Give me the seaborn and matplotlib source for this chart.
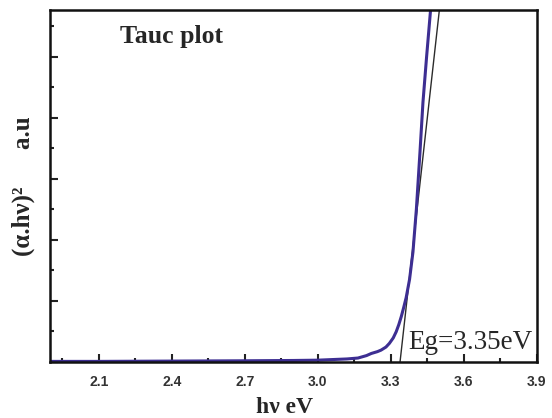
import numpy as np
import pandas as pd
import matplotlib
matplotlib.use("Agg")
import matplotlib.pyplot as plt
import seaborn as sns
from matplotlib.ticker import MultipleLocator, NullFormatter

# Tauc curve
photon_energy = [1.90, 2.10, 2.40, 2.70, 2.90, 3.00, 3.06, 3.12, 3.165, 3.20, 3.22,
                 3.245, 3.26, 3.28, 3.294, 3.31, 3.322, 3.333, 3.343, 3.353, 3.363,
                 3.377, 3.391, 3.405, 3.42, 3.432, 3.447, 3.464, 3.48]
tauc_value = [0.01, 0.01, 0.02, 0.03, 0.04, 0.05, 0.07, 0.09, 0.12, 0.20, 0.27,
              0.33, 0.38, 0.48, 0.60, 0.78, 0.98, 1.22, 1.48, 1.78, 2.10,
              2.70, 3.60, 5.00, 6.90, 8.50, 10.0, 11.6, 13.0]

# linear fit extrapolated to the x axis
fit_x = [3.338, 3.52]
fit_y = [0.0, 13.0]

df = pd.DataFrame({"hv": photon_energy, "ahv2": tauc_value})
fit = pd.DataFrame({"hv": fit_x, "ahv2": fit_y})

sns.set_style("ticks")
plt.rcParams['font.family'] = ['Liberation Serif', 'DejaVu Serif']

fig = plt.figure(figsize=(5.52, 4.18), dpi=100)
ax = fig.add_axes([0.0906, 0.1347, 0.882, 0.8413])

sns.lineplot(data=fit, x="hv", y="ahv2", color="#2b2b2b", lw=1.0, ax=ax)
sns.lineplot(data=df, x="hv", y="ahv2", color="#3d2e92", lw=2.2, ax=ax)

ax.set_xlim(1.9, 3.9)
ax.set_ylim(0, 11.53)
ax.xaxis.set_minor_locator(MultipleLocator(0.15))
ax.set_xticks([2.1, 2.4, 2.7, 3.0, 3.3, 3.6, 3.9])
ax.yaxis.set_major_locator(MultipleLocator(2))
ax.yaxis.set_minor_locator(MultipleLocator(1))
ax.yaxis.set_major_formatter(NullFormatter())

ax.tick_params(which="both", direction="in", width=1.5, colors="#222222",
               top=False, right=False)
ax.tick_params(which="major", length=6)
ax.tick_params(which="minor", length=3)
for lab in ax.get_xticklabels():
    lab.set_family(['Liberation Sans', 'DejaVu Sans'])
    lab.set_fontweight("bold")
    lab.set_fontsize(10)
    lab.set_color("#333333")
ax.tick_params(axis="x", pad=9.5)

for s in ax.spines.values():
    s.set_linewidth(1.8)
    s.set_color("#111111")

ax.set_xlabel("hν eV", fontsize=17, fontweight="bold")
ax.xaxis.label.set_va("baseline")
ax.xaxis.set_label_coords(0.4825, -0.146)
ax.set_ylabel("(α.hν)²      a.u", fontsize=18, fontweight="bold", labelpad=7)

ax.text(2.186, 10.44, "Tauc plot", fontsize=18.5, fontweight="bold", va="baseline")
ax.text(3.372, 0.40, "Eg=3.35eV", fontsize=19.5, va="baseline")

fig.savefig("out.png", dpi=100)
